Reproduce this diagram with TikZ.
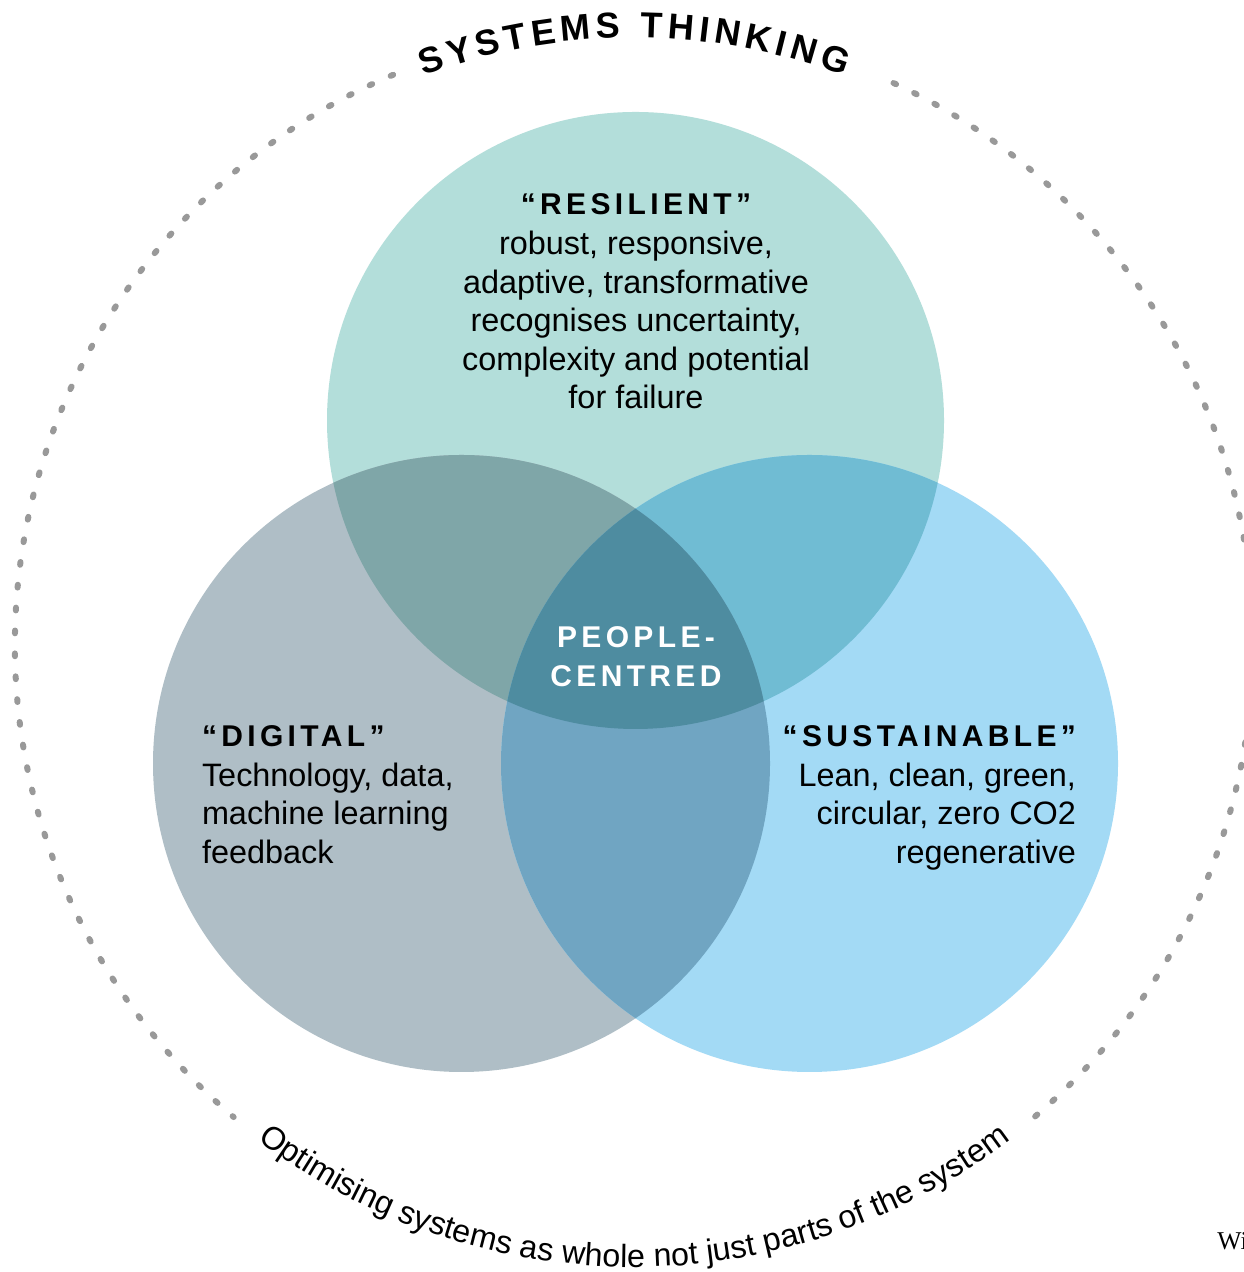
\documentclass[tikz,border=0pt]{standalone}
\usepackage{fontspec}
\usetikzlibrary{decorations.text}
\newfontfamily\sansfam{Liberation Sans}
\newfontfamily\trackfam[LetterSpace=14.5]{Liberation Sans}
\newfontfamily\wfam{Liberation Serif}
\newcommand\topfont{\sansfam\bfseries\fontsize{18}{21}\selectfont}
\newcommand\botfont{\sansfam\fontsize{16.1}{19}\selectfont}
\newcommand\tk{\kern2.45pt}
\definecolor{cTop}{HTML}{B3DEDA}
\definecolor{cLeft}{HTML}{AFBEC6}
\definecolor{cRight}{HTML}{A3DAF5}
\definecolor{cTL}{HTML}{7FA6A8}
\definecolor{cTR}{HTML}{70BCD3}
\definecolor{cLR}{HTML}{70A5C2}
\definecolor{cAll}{HTML}{4E8CA0}
\definecolor{dotgray}{HTML}{999999}
\tikzset{
  body/.style={font=\sansfam\fontsize{16.2}{19}\selectfont, inner sep=0pt, outer sep=0pt},
  head/.style={font=\trackfam\bfseries\fontsize{15}{18}\selectfont, inner sep=0pt, outer sep=0pt},
  dotring/.style={draw=dotgray, line width=3pt, line cap=round, dash pattern=on 1.4pt off 10.06pt},
}
\begin{document}
\begin{tikzpicture}[x=0.5pt, y=0.5pt]
\useasboundingbox (0,0) rectangle (1243,1272);
\fill[white] (0,0) rectangle (1243,1272);
% centres
\coordinate (T) at (635.5,851.5);
\coordinate (L) at (461.5,508.5);
\coordinate (R) at (809.5,508.5);
\coordinate (O) at (634,627);
% circles
\fill[cTop] (T) circle (308.5);
\fill[cLeft] (L) circle (308.5);
\fill[cRight] (R) circle (308.5);
\begin{scope}\clip (T) circle (308.5); \fill[cTL] (L) circle (308.5);\end{scope}
\begin{scope}\clip (T) circle (308.5); \fill[cTR] (R) circle (308.5);\end{scope}
\begin{scope}\clip (L) circle (308.5); \fill[cLR] (R) circle (308.5);\end{scope}
\begin{scope}\clip (T) circle (308.5); \clip (L) circle (308.5); \fill[cAll] (R) circle (308.5);\end{scope}
% dotted ring
\draw[dotring] (O) ++(-49.6:619) arc[start angle=-49.6, end angle=65.9, radius=619];
\draw[dotring] (O) ++(112.9:619) arc[start angle=112.9, end angle=229.7, radius=619];
% resilient
\node[head, anchor=base] (resH) at (636,1057) {“RESILIENT”};
\node[body, anchor=base] (res1) at (636,1017) {robust, responsive,};
\node[body, anchor=base] (res2) at (636,978.5) {adaptive, transformative};
\node[body, anchor=base] (res3) at (636,940) {recognises uncertainty,};
\node[body, anchor=base] (res4) at (636,901.5) {complexity and potential};
\node[body, anchor=base] (res5) at (636,863) {for failure};
% digital
\node[head, anchor=base west] (digH) at (202,525) {“DIGITAL”};
\node[body, anchor=base west] (dig1) at (202,485.5) {Technology, data,};
\node[body, anchor=base west] (dig2) at (202,447) {machine learning};
\node[body, anchor=base west] (dig3) at (202,408.5) {feedback};
% sustainable
\node[head, anchor=base east] (susH) at (1076,525) {“SUSTAINABLE”};
\node[body, anchor=base east] (sus1) at (1076,485.5) {Lean, clean, green,};
\node[body, anchor=base east] (sus2) at (1076,447) {circular, zero CO2};
\node[body, anchor=base east] (sus3) at (1076,408.5) {regenerative};
% people-centred
\node[head, text=white, anchor=base] (pc1) at (636,624) {PEOPLE-};
\node[head, text=white, anchor=base] (pc2) at (636,585) {CENTRED};
% arc texts
\path[decorate, decoration={text along path, text align=center,
   text={|\topfont|{S\tk}{Y\tk}{S\tk}{T\tk}{E\tk}{M\tk}{S\tk}{\ \tk}{T\tk}{H\tk}{I\tk}{N\tk}{K\tk}{I\tk}{N\tk}G}}]
   (O) ++(150:607) arc[start angle=150, end angle=30, radius=607];
\path[decorate, decoration={text along path, text align=center,
   text={|\botfont|Optimising systems as whole not just parts of the system}}]
   (O) ++(200:622) arc[start angle=200, end angle=340, radius=622];
% cut-off text at the edge
\node[inner sep=0pt, anchor=base west, font=\wfam\fontsize{12.8}{15}\selectfont] (edgeW) at (1217,22) {Wi};
\end{tikzpicture}
\end{document}
